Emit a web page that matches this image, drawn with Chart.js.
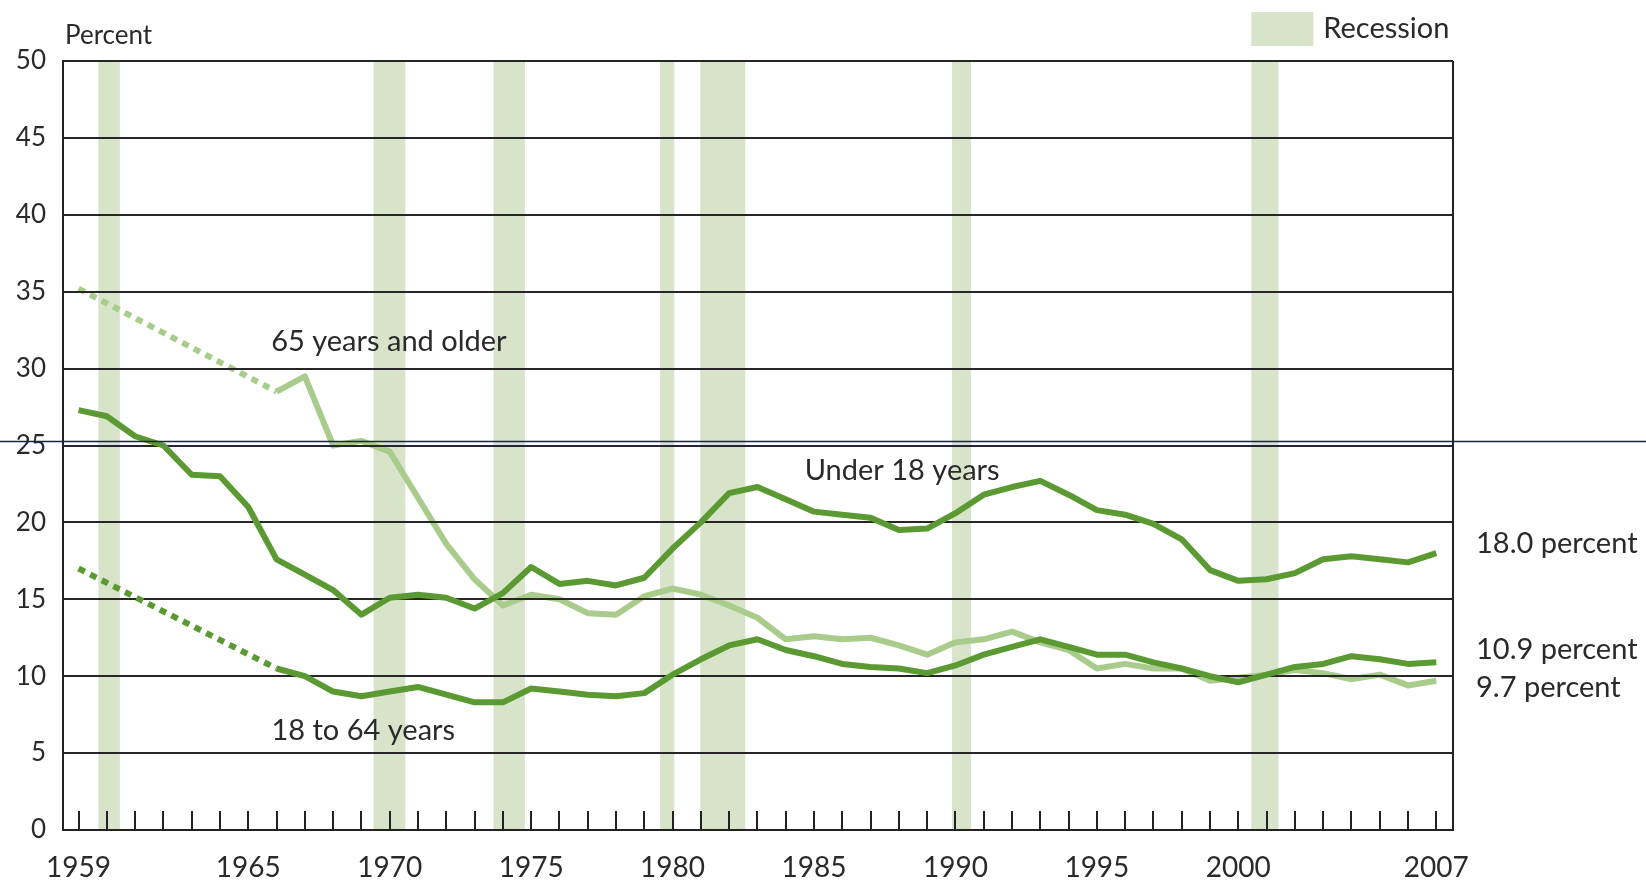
<!DOCTYPE html>
<html>
<head>
<meta charset="utf-8">
<script src="https://cdn.jsdelivr.net/npm/chart.js@4.4.1/dist/chart.umd.min.js"></script>
<style>
html,body{margin:0;padding:0;background:#fff;overflow:hidden}
canvas{display:block}
</style>
</head>
<body>
<canvas id="c" width="1646" height="880"></canvas>
<script>
// ---------------- data ----------------
const years = [1959,1960,1961,1962,1963,1964,1965,1966,1967,1968,
               1969,1970,1971,1972,1973,1974,1975,1976,1977,1978,
               1979,1980,1981,1982,1983,1984,1985,1986,1987,1988,
               1989,1990,1991,1992,1993,1994,1995,1996,1997,1998,
               1999,2000,2001,2002,2003,2004,2005,2006,2007];

const under18 = [27.3,26.9,25.6,25.0,23.1,23.0,21.0,17.6,16.6,15.6,
                 14.0,15.1,15.3,15.1,14.4,15.4,17.1,16.0,16.2,15.9,
                 16.4,18.3,20.0,21.9,22.3,21.5,20.7,20.5,20.3,19.5,
                 19.6,20.6,21.8,22.3,22.7,21.8,20.8,20.5,19.9,18.9,
                 16.9,16.2,16.3,16.7,17.6,17.8,17.6,17.4,18.0];

const age18to64 = [17.0,null,null,null,null,null,null,10.5,10.0,9.0,
                   8.7,9.0,9.3,8.8,8.3,8.3,9.2,9.0,8.8,8.7,
                   8.9,10.1,11.1,12.0,12.4,11.7,11.3,10.8,10.6,10.5,
                   10.2,10.7,11.4,11.9,12.4,11.9,11.4,11.4,10.9,10.5,
                   10.0,9.6,10.1,10.6,10.8,11.3,11.1,10.8,10.9];

const age65plus = [35.2,null,null,null,null,null,null,28.5,29.5,25.0,
                   25.3,24.6,21.6,18.6,16.3,14.6,15.3,15.0,14.1,14.0,
                   15.2,15.7,15.3,14.6,13.8,12.4,12.6,12.4,12.5,12.0,
                   11.4,12.2,12.4,12.9,12.2,11.7,10.5,10.8,10.5,10.5,
                   9.7,9.9,10.1,10.4,10.2,9.8,10.1,9.4,9.7];

const recessionStart = [1959.70,1969.43,1973.67,1979.56,1980.98,1989.88,2000.46];
const recessionEnd   = [1960.46,1970.55,1974.78,1980.06,1982.57,1990.55,2001.42];

const xTickYears = [1959,1965,1970,1975,1980,1985,1990,1995,2000,2007];
const yTickValues = [0,5,10,15,20,25,30,35,40,45,50];

const seriesNames = ['Under 18 years','18 to 64 years','65 years and older'];
const endLabels = ['18.0 percent','10.9 percent','9.7 percent'];
const yAxisTitle = 'Percent';
const legendLabel = 'Recession';

// ---------------- styles / layout ----------------
const DARK = '#5b9a32';
const LIGHT = '#a9cc8d';
const BAND = '#d7e4ca';
const GRID = '#262626';
const TEXT = '#2a2a2a';
const FONT = 'Lato';

// label anchors in data units (positions, kept separate from data)
const inPlotLabels = [
  {text: seriesNames[2], x: 1965.81, y: 31.14},
  {text: seriesNames[0], x: 1984.67, y: 22.76},
  {text: seriesNames[1], x: 1965.82, y: 5.85}
];
const rightLabelY = [18.0, 11.12, 8.65];

const toXY = arr => years.map((yr, i) => ({x: yr, y: arr[i]}));
// dotted where the series has no yearly values (gap spanned by a straight line)
const gapDots = ctx => ((ctx.p0.skip || ctx.p1.skip) ? [7, 6] : undefined);

const deco = {
  id: 'deco',
  beforeDraw(chart) {
    const {ctx, chartArea: a, scales: {x}} = chart;
    ctx.save();
    ctx.fillStyle = '#fff';
    ctx.fillRect(0, 0, chart.width, chart.height);
    ctx.fillStyle = BAND;
    recessionStart.forEach((s, i) => {
      const x0 = x.getPixelForValue(s);
      const x1 = x.getPixelForValue(recessionEnd[i]);
      ctx.fillRect(x0, a.top, x1 - x0, a.bottom - a.top);
    });
    ctx.restore();
  },
  afterDatasetDraw(chart, args) {
    if (args.index !== 2) return;
    const {ctx, chartArea: a, scales: {y}} = chart;
    ctx.save();
    ctx.strokeStyle = GRID;
    ctx.lineWidth = 2;
    yTickValues.forEach(v => {
      if (v === 0) return;
      const py = Math.round(y.getPixelForValue(v));
      ctx.beginPath();
      ctx.moveTo(a.left, py);
      ctx.lineTo(a.right, py);
      ctx.stroke();
    });
    ctx.restore();
  },
  afterDraw(chart) {
    const {ctx, chartArea: a, scales: {x, y}} = chart;
    ctx.save();
    // year ticks (inside, upward)
    ctx.strokeStyle = '#222';
    ctx.lineWidth = 2;
    years.forEach(yr => {
      const px = Math.round(x.getPixelForValue(yr));
      ctx.beginPath();
      ctx.moveTo(px, a.bottom);
      ctx.lineTo(px, a.bottom - 19);
      ctx.stroke();
    });
    // right border
    ctx.beginPath();
    ctx.moveTo(Math.round(a.right), a.top);
    ctx.lineTo(Math.round(a.right), a.bottom);
    ctx.stroke();

    ctx.fillStyle = TEXT;
    ctx.textBaseline = 'alphabetic';
    ctx.textAlign = 'left';
    // in-plot series labels
    ctx.font = '29px ' + FONT;
    inPlotLabels.forEach(l => {
      ctx.fillText(l.text, x.getPixelForValue(l.x), y.getPixelForValue(l.y));
    });
    // right-side end labels
    endLabels.forEach((t, i) => {
      ctx.fillText(t, a.right + 23, y.getPixelForValue(rightLabelY[i]));
    });
    // axis title
    ctx.font = '26px ' + FONT;
    ctx.fillText(yAxisTitle, a.left + 2, a.top - 17);
    // legend
    const lx = x.getPixelForValue(recessionStart[6]);
    ctx.fillStyle = BAND;
    ctx.fillRect(lx, 12, 62, 34);
    ctx.fillStyle = TEXT;
    ctx.font = '29px ' + FONT;
    ctx.fillText(legendLabel, lx + 72, 38);
    // thin navy rule across the page
    ctx.strokeStyle = '#1b1b72';
    ctx.lineWidth = 1.5;
    const ny = y.getPixelForValue(25) - 4;
    ctx.beginPath();
    ctx.moveTo(0, ny);
    ctx.lineTo(chart.width, ny);
    ctx.stroke();
    ctx.restore();
  }
};

Chart.defaults.font.family = FONT;

new Chart(document.getElementById('c'), {
  type: 'line',
  data: {
    datasets: [
      {label: seriesNames[0], data: toXY(under18), borderColor: DARK, borderWidth: 6,
       pointRadius: 0, tension: 0, borderJoinStyle: 'round'},
      {label: seriesNames[1], data: toXY(age18to64), borderColor: DARK, borderWidth: 6,
       pointRadius: 0, tension: 0, borderJoinStyle: 'round', spanGaps: true,
       segment: {borderDash: gapDots}},
      {label: seriesNames[2], data: toXY(age65plus), borderColor: LIGHT, borderWidth: 6,
       pointRadius: 0, tension: 0, borderJoinStyle: 'round', spanGaps: true,
       segment: {borderDash: gapDots}}
    ]
  },
  options: {
    responsive: false,
    animation: false,
    devicePixelRatio: 1,
    events: [],
    layout: {padding: {top: 61, right: 193, left: 0, bottom: 0}},
    plugins: {legend: {display: false}, tooltip: {enabled: false}},
    scales: {
      x: {
        type: 'linear', min: 1958.45, max: 2007.59,
        afterBuildTicks: s => { s.ticks = xTickYears.map(v => ({value: v})); },
        afterFit: s => { s.height = 50; },
        grid: {display: true, drawOnChartArea: false, drawTicks: false},
        border: {display: true, color: '#222', width: 2},
        ticks: {font: {size: 28}, color: TEXT, padding: 21, autoSkip: false, maxRotation: 0,
                callback: v => String(v)}
      },
      y: {
        min: 0, max: 50,
        afterBuildTicks: s => { s.ticks = yTickValues.map(v => ({value: v})); },
        afterFit: s => { s.width = 63; },
        grid: {color: GRID, lineWidth: 2, drawTicks: false},
        border: {display: true, color: '#222', width: 2},
        ticks: {font: {size: 26}, color: TEXT, padding: 17}
      }
    }
  },
  plugins: [deco]
});
</script>
</body>
</html>
